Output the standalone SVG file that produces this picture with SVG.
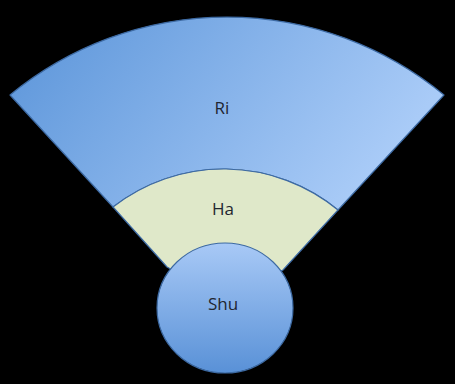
<svg xmlns="http://www.w3.org/2000/svg" width="455" height="384" viewBox="0 0 455 384">
<defs>
<linearGradient id="riGrad" x1="0" y1="0" x2="1" y2="0.35">
<stop offset="0" stop-color="#5a94d9"/>
<stop offset="1" stop-color="#a9cbf7"/>
</linearGradient>
<linearGradient id="shuGrad" x1="0" y1="0" x2="0" y2="1">
<stop offset="0" stop-color="#a8c9f6"/>
<stop offset="1" stop-color="#5991d7"/>
</linearGradient>
<style>
.edge{stroke:#3d6aa3;stroke-width:1.2;stroke-linejoin:round}
.lbl{font-family:"Open Sans","Liberation Sans",sans-serif;font-size:17px;fill:#1f2630;text-anchor:middle}
</style>
</defs>
<rect x="0" y="0" width="455" height="384" fill="#000000"/>
<g id="ri">
<path class="edge" d="M10,95 A341,341 0 0 1 444,95 L338,210 A180,180 0 0 0 113,207 Z" fill="url(#riGrad)"/>
<text class="lbl" x="222" y="114">Ri</text>
</g>
<g id="ha">
<path class="edge" d="M113,207 A180,180 0 0 1 338,210 L283,270 L225,300 L167,267 Z" fill="#dfe8c9"/>
<text class="lbl" x="223" y="215">Ha</text>
</g>
<g id="shu">
<ellipse class="edge" cx="225" cy="308" rx="68" ry="65" fill="url(#shuGrad)"/>
<text class="lbl" x="223" y="310">Shu</text>
</g>
<g id="connectors"/>
</svg>
